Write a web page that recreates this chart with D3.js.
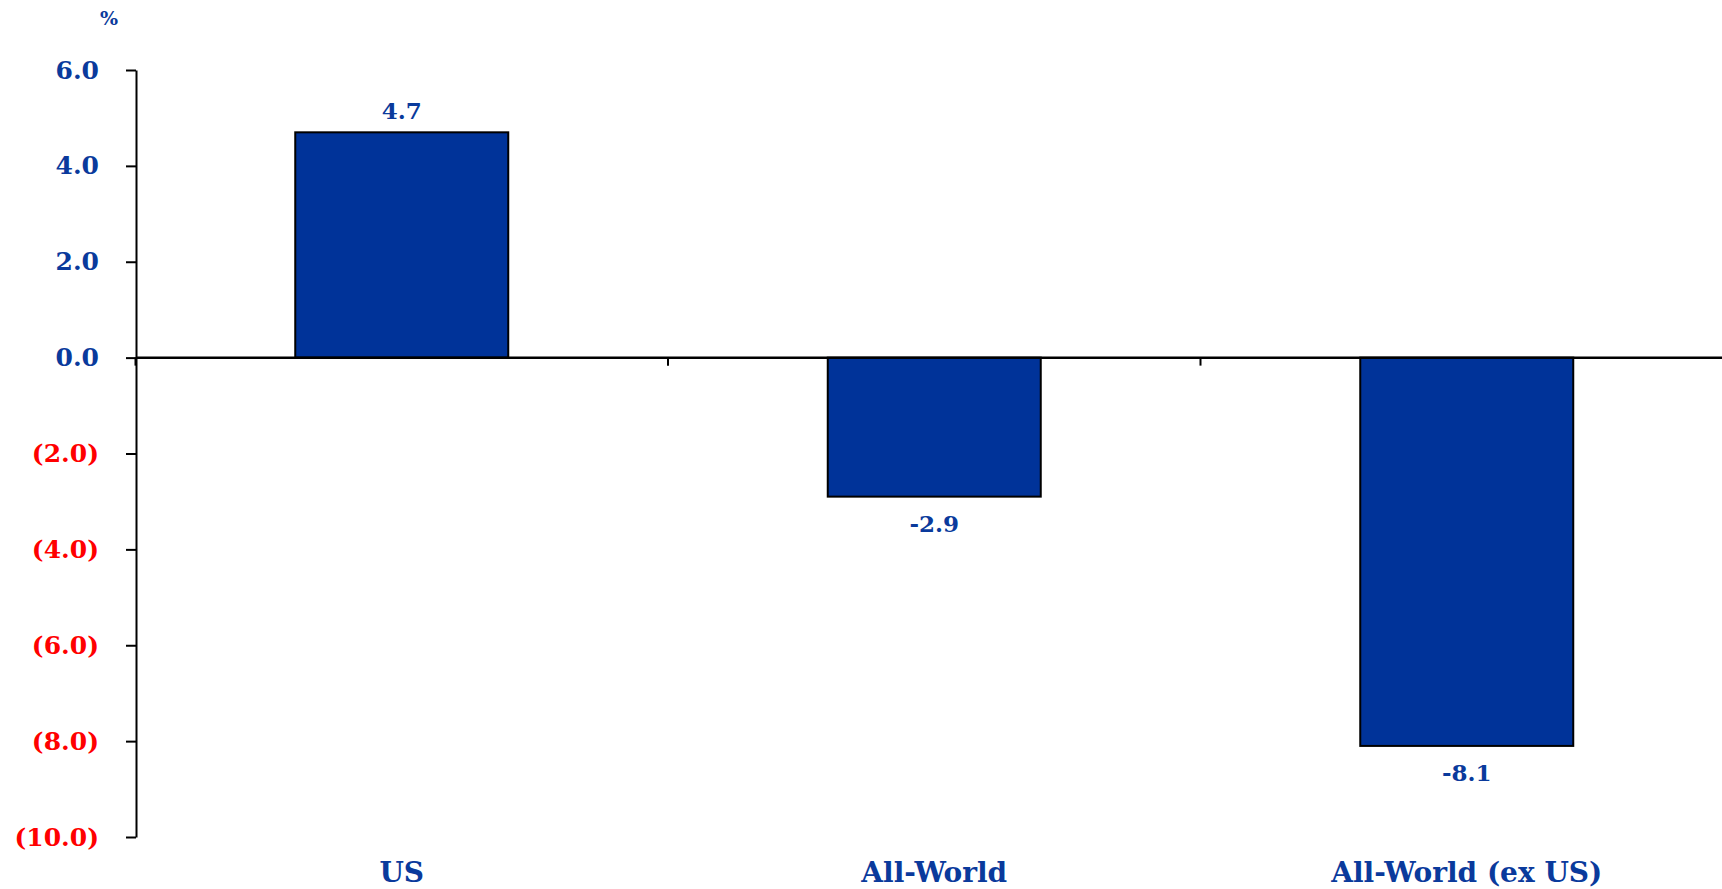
<!DOCTYPE html>
<html>
<head>
<meta charset="utf-8">
<script src="https://cdn.jsdelivr.net/npm/d3@7/dist/d3.min.js"></script>
<style>
  html, body { margin: 0; padding: 0; background: #ffffff; overflow: hidden; }
  svg { display: block; }
  text { font-family: "DejaVu Serif", "Liberation Serif", serif; font-weight: bold; }
</style>
</head>
<body>
<svg id="chart" width="1722" height="889"></svg>
<script>
// Chart data
const categories = ["US", "All-World", "All-World (ex US)"];
const values = [4.7, -2.9, -8.1];
const yTicks = [6, 4, 2, 0, -2, -4, -6, -8, -10];

const BLUE = "#003399";
const LABEL_BLUE = "#0a3a9c";
const RED = "#ff0000";

const svg = d3.select("#chart");

// Scales
const y = d3.scaleLinear().domain([-10, 6]).range([837, 70]);
const slot = d3.scaleBand().domain(categories).range([135.5, 1733]).padding(0);
const barW = slot.bandwidth() * 0.4;
const cx = d => slot(d) + slot.bandwidth() / 2;

// Y axis with left ticks; negatives shown in parentheses
const fmt = v => v < 0 ? "(" + Math.abs(v).toFixed(1) + ")" : v.toFixed(1);
const yAxis = svg.append("g")
  .attr("transform", "translate(136,0)")
  .call(d3.axisLeft(y).tickValues(yTicks).tickSize(10).tickSizeOuter(0).tickPadding(27).tickFormat(fmt));
yAxis.select(".domain").attr("stroke", "#000").attr("stroke-width", 2);
yAxis.selectAll(".tick line").attr("stroke", "#000").attr("stroke-width", 2);
yAxis.selectAll(".tick text")
  .attr("font-size", 25)
  .attr("font-family", "DejaVu Serif, serif")
  .attr("font-weight", "bold")
  .attr("fill", d => d < 0 ? RED : LABEL_BLUE);

// Unit marker
svg.append("text")
  .attr("x", 109).attr("y", 25)
  .attr("text-anchor", "middle")
  .attr("font-size", 19)
  .attr("fill", LABEL_BLUE)
  .text("%");

// Bars
svg.append("g").selectAll("rect")
  .data(categories)
  .join("rect")
  .attr("x", d => cx(d) - barW / 2)
  .attr("width", barW)
  .attr("y", (d, i) => y(Math.max(0, values[i])))
  .attr("height", (d, i) => Math.abs(y(values[i]) - y(0)))
  .attr("fill", BLUE)
  .attr("stroke", "#000")
  .attr("stroke-width", 2);

// Zero line and category separators
svg.append("line")
  .attr("x1", 136).attr("x2", 1722)
  .attr("y1", y(0)).attr("y2", y(0))
  .attr("stroke", "#000").attr("stroke-width", 2.5);
const bounds = categories.map(c => slot(c));
svg.append("g").selectAll("line")
  .data(bounds)
  .join("line")
  .attr("x1", d => d).attr("x2", d => d)
  .attr("y1", y(0)).attr("y2", y(0) + 8)
  .attr("stroke", "#000").attr("stroke-width", 2);

// Value labels
svg.append("g").selectAll("text")
  .data(categories)
  .join("text")
  .attr("x", d => cx(d))
  .attr("y", (d, i) => values[i] >= 0 ? y(values[i]) - 13 : y(values[i]) + 35)
  .attr("text-anchor", "middle")
  .attr("font-size", 23)
  .attr("fill", LABEL_BLUE)
  .text((d, i) => values[i].toFixed(1));

// Category labels
svg.append("g").selectAll("text")
  .data(categories)
  .join("text")
  .attr("x", d => cx(d))
  .attr("y", 882)
  .attr("text-anchor", "middle")
  .attr("font-size", 28)
  .attr("fill", LABEL_BLUE)
  .text(d => d);
</script>
</body>
</html>
